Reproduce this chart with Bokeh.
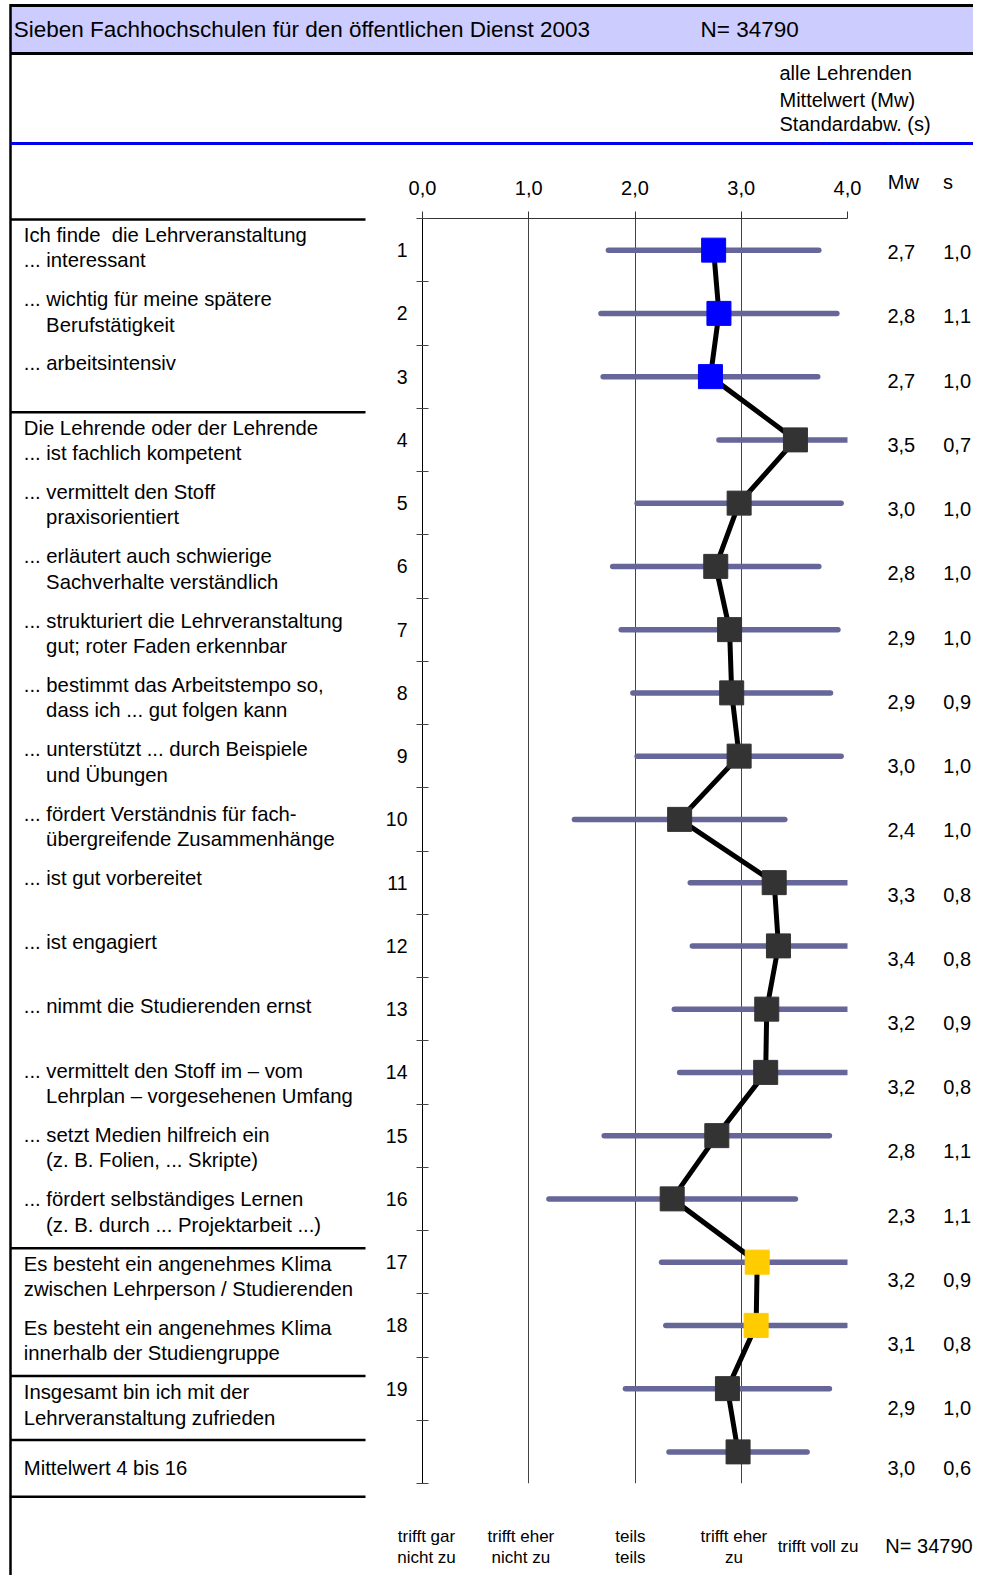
from bokeh.plotting import figure
from bokeh.models import Range1d, FixedTicker
from bokeh.embed import file_html
from bokeh.resources import INLINE
from bokeh.core.properties import value

# ---------------- data ----------------
item_numbers = [str(i) for i in range(1, 20)] + [""]
item_text = [
    ["Ich finde\u00a0 die Lehrveranstaltung", "... interessant"],
    ["... wichtig für meine spätere", "Berufstätigkeit"],
    ["... arbeitsintensiv"],
    ["Die Lehrende oder der Lehrende", "... ist fachlich kompetent"],
    ["... vermittelt den Stoff", "praxisorientiert"],
    ["... erläutert auch schwierige", "Sachverhalte verständlich"],
    ["... strukturiert die Lehrveranstaltung", "gut; roter Faden erkennbar"],
    ["... bestimmt das Arbeitstempo so,", "dass ich ... gut folgen kann"],
    ["... unterstützt ... durch Beispiele", "und Übungen"],
    ["... fördert Verständnis für fach-", "übergreifende Zusammenhänge"],
    ["... ist gut vorbereitet"],
    ["... ist engagiert"],
    ["... nimmt die Studierenden ernst"],
    ["... vermittelt den Stoff im – vom", "Lehrplan – vorgesehenen Umfang"],
    ["... setzt Medien hilfreich ein", "(z. B. Folien, ... Skripte)"],
    ["... fördert selbständiges Lernen", "(z. B. durch ... Projektarbeit ...)"],
    ["Es besteht ein angenehmes Klima", "zwischen Lehrperson / Studierenden"],
    ["Es besteht ein angenehmes Klima", "innerhalb der Studiengruppe"],
    ["Insgesamt bin ich mit der", "Lehrveranstaltung zufrieden"],
    ["Mittelwert 4 bis 16"],
]
second_line_indented = [False, True, False, False, True, True, True, True, True, True,
                        False, False, False, True, True, True, False, False, False, False]
means = [2.74, 2.79, 2.71, 3.51, 2.98, 2.76, 2.89, 2.91, 2.98, 2.42,
         3.31, 3.35, 3.24, 3.23, 2.77, 2.35, 3.15, 3.14, 2.87, 2.97]
sds = [0.99, 1.11, 1.01, 0.72, 0.96, 0.97, 1.02, 0.93, 0.96, 0.99,
       0.79, 0.81, 0.87, 0.81, 1.06, 1.16, 0.90, 0.85, 0.96, 0.65]
mw_labels = ["2,7", "2,8", "2,7", "3,5", "3,0", "2,8", "2,9", "2,9", "3,0", "2,4",
             "3,3", "3,4", "3,2", "3,2", "2,8", "2,3", "3,2", "3,1", "2,9", "3,0"]
s_labels = ["1,0", "1,1", "1,0", "0,7", "1,0", "1,0", "1,0", "0,9", "1,0", "1,0",
            "0,8", "0,8", "0,9", "0,8", "1,1", "1,1", "0,9", "0,8", "1,0", "0,6"]
marker_colors = ["#0000FF"] * 3 + ["#333333"] * 13 + ["#FFCC00"] * 2 + ["#333333"] * 2
x_ticks = [0, 1, 2, 3, 4]
x_tick_labels = ["0,0", "1,0", "2,0", "3,0", "4,0"]
scale_labels = [["trifft gar", "nicht zu"], ["trifft eher", "nicht zu"], ["teils", "teils"],
                ["trifft eher", "zu"], ["trifft voll zu"]]
title = "Sieben Fachhochschulen für den öffentlichen Dienst 2003"
n_text = "N= 34790"
legend_lines = ["alle Lehrenden", "Mittelwert (Mw)", "Standardabw. (s)"]

# ---------------- layout ----------------
W, H = 973, 1575
FL, FR, FT, FB = 422, 847, 218, 1483
NROWS = 20
FONT = "Liberation Sans"


def X(cx):
    return (cx - FL) / (FR - FL) * 4.0


def Y(cy):
    return (cy - FT) / (FB - FT) * NROWS


p = figure(width=W, height=H, output_backend="svg", toolbar_location=None,
           x_range=Range1d(0, 4), y_range=Range1d(NROWS, 0),
           x_axis_location="above",
           min_border_left=FL, min_border_right=W - FR,
           min_border_top=FT, min_border_bottom=H - FB)
p.outline_line_color = None
p.background_fill_color = "white"
p.border_fill_color = "white"

# top axis
xa = p.xaxis[0]
xa.ticker = FixedTicker(ticks=x_ticks)
xa.major_label_overrides = {t: l for t, l in zip(x_ticks, x_tick_labels)}
xa.major_tick_in = 0
xa.major_tick_out = 7
xa.minor_tick_out = 0
xa.minor_tick_in = 0
xa.axis_line_color = "#333333"
xa.major_tick_line_color = "#333333"
xa.major_label_text_font = FONT
xa.major_label_text_font_size = "20px"
xa.major_label_text_color = "black"
xa.major_label_standoff = 17

# left axis: ticks at row boundaries, numbers at row centres
row_centers = [i + 0.5 for i in range(NROWS)]
ya = p.yaxis[0]
ya.ticker = FixedTicker(ticks=row_centers, minor_ticks=list(range(NROWS + 1)))
ya.major_label_overrides = {c: n for c, n in zip(row_centers, item_numbers)}
ya.major_tick_in = 0
ya.major_tick_out = 0
ya.minor_tick_in = 6
ya.minor_tick_out = 6
ya.minor_tick_line_color = "#444444"
ya.axis_line_color = "black"
ya.major_label_text_font = FONT
ya.major_label_text_font_size = "19.5px"
ya.major_label_text_color = "black"
ya.major_label_standoff = 9

p.xgrid.ticker = FixedTicker(ticks=[1, 2, 3, 4])
p.xgrid.grid_line_color = "#444444"
p.xgrid.grid_line_width = 1
p.ygrid.visible = False

# ---------------- chart glyphs ----------------
lo = [max(0.0, m - s) for m, s in zip(means, sds)]
hi = [min(4.0, m + s) for m, s in zip(means, sds)]
p.segment(x0=lo, x1=hi, y0=row_centers, y1=row_centers, line_color="#666699",
          line_width=5.5, line_cap="round")
p.line(x=means, y=row_centers, line_color="black", line_width=5)
p.scatter(x=means, y=row_centers, marker="square", size=24, fill_color=marker_colors,
          line_color=marker_colors)

# ---------------- frame decoration outside the plot area ----------------
LV = "annotation"
# header
p.quad(left=[X(10)], right=[X(W)], top=[Y(5)], bottom=[Y(53)], fill_color="#CCCCFF",
       line_color=None, level=LV)
p.segment(x0=[X(10), X(10)], x1=[X(W), X(W)], y0=[Y(5), Y(53)], y1=[Y(5), Y(53)],
          line_color="black", line_width=3, level=LV)
# left border
p.segment(x0=[X(10)], x1=[X(10)], y0=[Y(3.5)], y1=[Y(H)], line_color="black", line_width=2.5, level=LV)
# blue line
p.segment(x0=[X(10)], x1=[X(W)], y0=[Y(143)], y1=[Y(143)], line_color="#0000EE", line_width=3, level=LV)
# group separators in label column
sep_cy = [219.1, 411.8, 1247.7, 1375.5, 1439.4, 1496.2]
p.segment(x0=[X(10)] * len(sep_cy), x1=[X(365)] * len(sep_cy), y0=[Y(c) for c in sep_cy],
          y1=[Y(c) for c in sep_cy], line_color="black", line_width=2.5, level=LV)


# ---------------- texts ----------------
def txt(xs, ys, texts, size="20px", align="left"):
    p.text(x=xs, y=ys, text=texts, text_font=value(FONT), text_font_size=size,
           text_align=align, text_baseline="middle", text_color="black", level=LV)


txt([X(13.2)], [Y(29.4)], [title], size="22.5px")
txt([X(700)], [Y(29.4)], [n_text], size="22.5px")
txt([X(779)] * 3, [Y(72.0), Y(99.4), Y(123.8)], legend_lines)
txt([X(902.8), X(947.4)], [Y(181.6), Y(181.6)], ["Mw", "s"], align="center")

# item texts
lx, ly, lt = [], [], []
for i, lines in enumerate(item_text):
    first = 234.3 + 64.3 * i if i < NROWS - 1 else 1467.8
    for j, line in enumerate(lines):
        indent = 45.6 if (j == 1 and second_line_indented[i]) else 23.3
        lx.append(X(indent))
        ly.append(Y(first + 25.4 * j))
        lt.append(line)
txt(lx, ly, lt, size="20.3px")

# Mw / s values
val_cy = [251.6 + 64.24 * i for i in range(NROWS - 1)] + [1467.8]
txt([X(900.8)] * NROWS, [Y(c) for c in val_cy], mw_labels, align="center")
txt([X(956.6)] * NROWS, [Y(c) for c in val_cy], s_labels, align="center")

# scale texts at bottom
scale_cx = [426, 520.4, 629.9, 733.4, 817.6]
bx, by, bt = [], [], []
for cx, lines in zip(scale_cx, scale_labels):
    if len(lines) == 2:
        for j, line in enumerate(lines):
            bx.append(X(cx)); by.append(Y(1535.7 + 21.3 * j)); bt.append(line)
    else:
        bx.append(X(cx)); by.append(Y(1545.9)); bt.append(lines[0])
txt(bx, by, bt, size="17px", align="center")
txt([X(928.5)], [Y(1545.9)], [n_text], align="center")

open("out.html", "w").write(file_html(p, INLINE))
